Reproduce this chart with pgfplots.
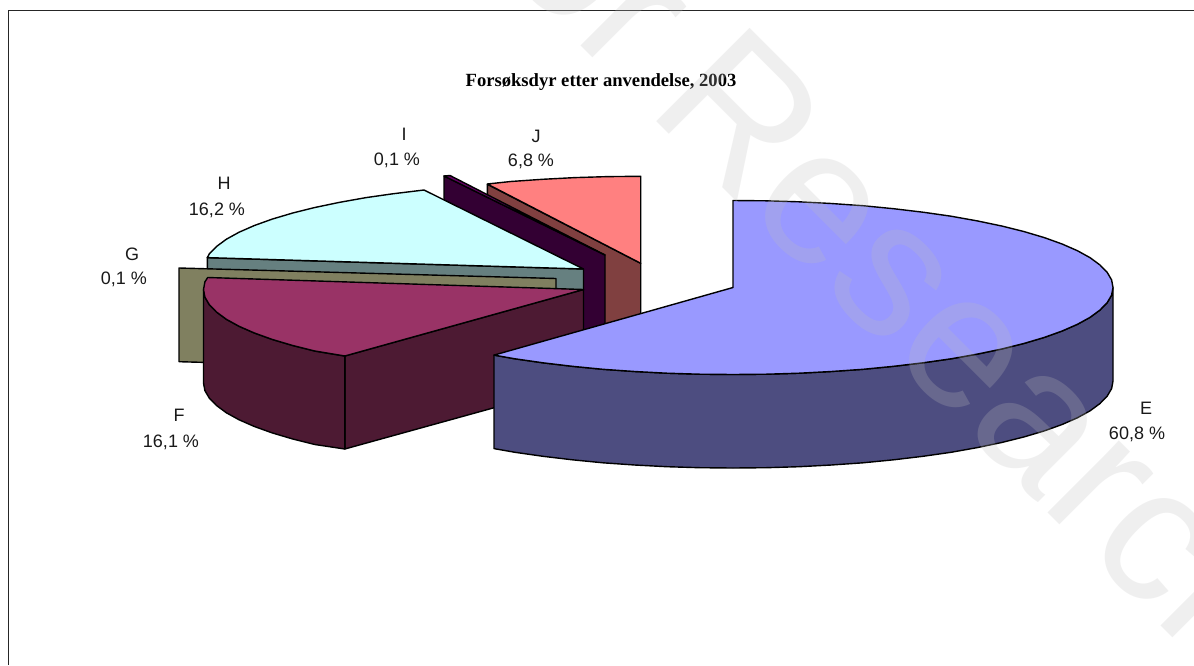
\documentclass[border=0pt]{standalone}
\usepackage{fontspec}
\setmainfont{Liberation Sans}
\newfontfamily\serifx{Liberation Serif}
\usepackage{pgfplots}
\pgfplotsset{compat=1.18}
\definecolor{Etop}{HTML}{9999FF}\definecolor{Eside}{HTML}{4D4D80}
\definecolor{Ftop}{HTML}{993366}\definecolor{Fside}{HTML}{4D1A33}
\definecolor{Gside}{HTML}{808060}
\definecolor{Htop}{HTML}{CCFFFF}\definecolor{Hside}{HTML}{668080}
\definecolor{Itop}{HTML}{660066}\definecolor{Iside}{HTML}{330033}
\definecolor{Jtop}{HTML}{FF8080}\definecolor{Jside}{HTML}{804040}
\definecolor{wm}{RGB}{190,190,190}
\begin{document}
\begin{tikzpicture}
\begin{axis}[hide axis, scale only axis, width=1194pt, height=665pt,
  xmin=0, xmax=1194, ymin=0, ymax=665, y dir=reverse, clip=false,
  every axis plot/.append style={no marks, draw=black, line width=1.4pt, line join=round, forget plot}]
% frame
\addplot[fill=none, line width=1.5pt, draw=black!85] coordinates {(8.5,665) (8.5,10.5) (1194,10.5)};
% J
\addplot[fill=Jside] coordinates {(487.3,184.3) (640.7,263.3) (640.7,357) (487.3,278)} --cycle;
\addplot[fill=Jtop] coordinates {(640.7,263.3) (640.7,176.3) (607.6,176.6) (574.7,177.6) (542.4,179.3) (510.7,181.5) (487.3,184)} --cycle;
% I
\addplot[fill=Iside] coordinates {(444,176) (605,255) (605,348) (444,269)} --cycle;
\addplot[fill=Itop] coordinates {(444,176) (450,175.5) (605,255)} --cycle;
% H
\addplot[fill=Hside] coordinates {(207.3,257.7) (583.5,269) (583.5,290) (207.3,350)} --cycle;
\addplot[fill=Htop] coordinates {(583.5,269) (207.3,257.6) (209.3,253.9) (216.5,246.5) (226.4,239.2) (239.1,232.2) (254.4,225.5) (272.2,219.1) (292.4,213.1) (314.8,207.5) (339.2,202.4) (365.5,197.7) (393.5,193.7) (424,190)} --cycle;
% G
\addplot[fill=Gside] coordinates {(179,268) (556,278.5) (556,372) (179,361.7)} --cycle;
% F
\addplot[fill=Fside] coordinates {(344.8,356) (583.5,289.5) (583.5,383) (344.8,449)} --cycle;
\addplot[fill=Fside] coordinates {(203.5,289.5) (204.9,297.1) (209.3,304.6) (216.5,312) (226.4,319.3) (239.1,326.3) (254.4,333) (272.2,339.4) (292.4,345.4) (314.8,351) (344.8,356) (344.8,449) (314.8,444.5) (292.4,438.9) (272.2,432.9) (254.4,426.5) (239.1,419.8) (226.4,412.8) (216.5,405.5) (209.3,398.1) (204.9,390.6) (203.5,383)} --cycle;
\addplot[fill=Ftop] coordinates {(583.5,289.5) (344.8,356) (314.8,351) (292.4,345.4) (272.2,339.4) (254.4,333) (239.1,326.3) (226.4,319.3) (216.5,312) (209.3,304.6) (204.9,297.1) (203.5,289.5) (204.9,281.9) (207.7,277.5)} --cycle;
% E
\addplot[fill=Eside] coordinates {(1113,287.5) (1111.6,295.1) (1107.2,302.6) (1100,310) (1090.1,317.3) (1077.4,324.3) (1062.1,331) (1044.3,337.4) (1024.1,343.4) (1001.7,349) (977.3,354.1) (951,358.8) (923,362.8) (893.6,366.3) (863,369.3) (831.3,371.5) (799,373.2) (766.1,374.2) (733,374.5) (699.9,374.2) (667,373.2) (634.7,371.5) (603,369.3) (572.4,366.3) (543,362.8) (515,358.8) (494,355.1) (494,448.6) (515,452.3) (543,456.3) (572.4,459.8) (603,462.8) (634.7,465) (667,466.7) (699.9,467.7) (733,468) (766.1,467.7) (799,466.7) (831.3,465) (863,462.8) (893.6,459.8) (923,456.3) (951,452.3) (977.3,447.6) (1001.7,442.5) (1024.1,436.9) (1044.3,430.9) (1062.1,424.5) (1077.4,417.8) (1090.1,410.8) (1100,403.5) (1107.2,396.1) (1111.6,388.6) (1113,381)} --cycle;
\addplot[fill=Etop] coordinates {(733,287.5) (733,200.5) (766.1,200.8) (799,201.8) (831.3,203.5) (863,205.7) (893.6,208.7) (923,212.2) (951,216.2) (977.3,220.9) (1001.7,226) (1024.1,231.6) (1044.3,237.6) (1062.1,244) (1077.4,250.7) (1090.1,257.7) (1100,265) (1107.2,272.4) (1111.6,279.9) (1113,287.5) (1111.6,295.1) (1107.2,302.6) (1100,310) (1090.1,317.3) (1077.4,324.3) (1062.1,331) (1044.3,337.4) (1024.1,343.4) (1001.7,349) (977.3,354.1) (951,358.8) (923,362.8) (893.6,366.3) (863,369.3) (831.3,371.5) (799,373.2) (766.1,374.2) (733,374.5) (699.9,374.2) (667,373.2) (634.7,371.5) (603,369.3) (572.4,366.3) (543,362.8) (515,358.8) (494,355.1)} --cycle;
% title and labels
\node[font=\serifx\bfseries\fontsize{18.6}{20}\selectfont, inner sep=0pt] at (axis cs:601,82.5) {Forsøksdyr etter anvendelse, 2003};
\tikzset{lab/.style={font=\fontsize{18}{20}\selectfont, inner sep=0pt, text=black!90}}
\node[lab] at (axis cs:404,134) {I};
\node[lab] at (axis cs:397,160) {0,1 \%};
\node[lab] at (axis cs:536,136) {J};
\node[lab] at (axis cs:531,161) {6,8 \%};
\node[lab] at (axis cs:224,183) {H};
\node[lab] at (axis cs:217,210) {16,2 \%};
\node[lab] at (axis cs:132,254) {G};
\node[lab] at (axis cs:124,279) {0,1 \%};
\node[lab] at (axis cs:179,415) {F};
\node[lab] at (axis cs:171,442) {16,1 \%};
\node[lab] at (axis cs:1146,408) {E};
\node[lab] at (axis cs:1137,434) {60,8 \%};
% watermark
\tikzset{wmk/.style={font=\fontsize{192}{200}\selectfont, rotate=-45, inner sep=0pt, text=wm, text opacity=.24}}
\node[wmk, anchor=base west] at (axis cs:645.6,110.6) {Research};
\node[wmk, anchor=base east] at (axis cs:617,82) {for};
\end{axis}
\pgfresetboundingbox
\path[use as bounding box] (0,0) rectangle (1194pt,665pt);
\end{tikzpicture}
\end{document}
